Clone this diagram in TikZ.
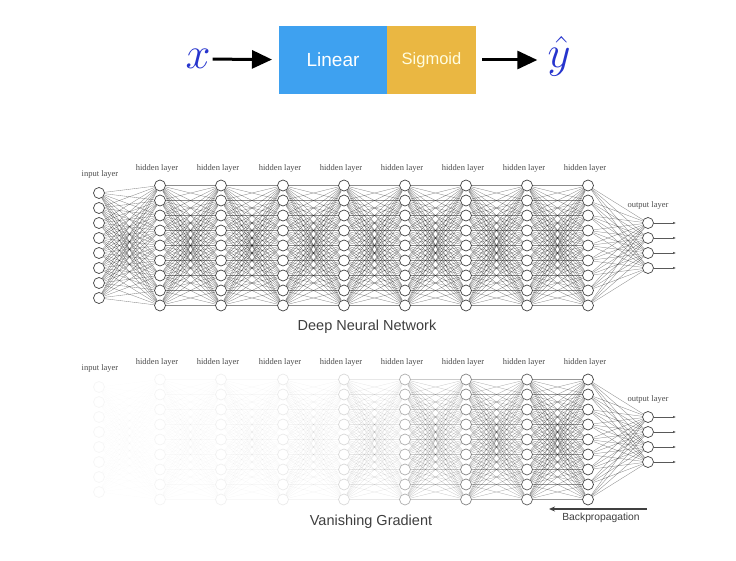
\documentclass[tikz,border=0pt]{standalone}
\usepackage{fontspec}
\setmainfont{Liberation Sans}
\newfontfamily\netfont{Liberation Serif}
\usetikzlibrary{arrows.meta,backgrounds}
\definecolor{linblue}{RGB}{62,161,240}
\definecolor{sigyel}{RGB}{234,183,66}
\definecolor{mathblue}{RGB}{38,52,205}
\definecolor{captgray}{RGB}{62,62,62}
\begin{document}
\begin{tikzpicture}[x=1pt,y=-1pt,
  neuron/.style={circle, draw=black!75, fill=white, line width=0.7pt, minimum size=11pt, inner sep=0pt},
  edge/.style={draw=black, line width=0.35pt},
  lbl/.style={font=\netfont\fontsize{8.5}{9}\selectfont, text=black!70, inner sep=0pt},
  capt/.style={font=\fontsize{14.5}{15}\selectfont, text=captgray, inner sep=0pt},
  mathtxt/.style={font=\fontsize{24.88}{25}\selectfont, text=mathblue, inner sep=0pt},
  bigarrow/.style={line width=3pt, -{Triangle[length=20pt,width=18pt]}},
  outarrow/.style={line width=0.5pt, draw=black!65, -{Latex[length=3pt,width=2.5pt]}},
  blockbox/.style={minimum height=68pt, inner sep=0pt, outer sep=0pt}]
\useasboundingbox (0,0) rectangle (736,561);

% ---------- top block diagram ----------
\node[mathtxt] (xin) at (198,59) {\scalebox{1.8}{$x$}};
\node[blockbox, fill=linblue, minimum width=108pt, text=white, font=\fontsize{19}{19}\selectfont] (lin) at (333,60) {Linear};
\node[blockbox, fill=sigyel, minimum width=89pt, text=white!88!yellow, font=\fontsize{16.5}{17}\selectfont] (sig) at (431.5,60) {Sigmoid};
\node[mathtxt] (yhat) at (559,56) {\scalebox{1.8}{$\hat{y}$}};
\draw[bigarrow, shorten <=2pt, shorten >=7pt] (xin) -- (lin);
\draw[bigarrow, shorten <=6pt, shorten >=10pt] (sig) -- (yhat.west |- sig);

% ---------- top network ----------
\foreach \l/\xx/\n in {0/99/8,1/160/9,2/221/9,3/283/9,4/344/9,5/405/9,6/466/9,7/527/9,8/588/9,9/648/4}{
  \foreach \i in {1,...,\n}{
    \node[neuron] (t\l-\i) at (\xx,{245.5+(\i-(\n+1)/2)*15}) {};
  }
}
\begin{pgfonlayer}{background}
\foreach \l/\n/\m in {0/8/9,1/9/9,2/9/9,3/9/9,4/9/9,5/9/9,6/9/9,7/9/9,8/9/4}{
  \pgfmathtruncatemacro\nl{\l+1}
  \foreach \i in {1,...,\n}{
    \foreach \j in {1,...,\m}{
      \draw[edge, draw opacity=0.45] (t\l-\i) -- (t\nl-\j);
    }
  }
}
\end{pgfonlayer}
\foreach \i in {1,...,4}{
  \coordinate (to\i) at (676,{245.5+(\i-2.5)*15});
  \draw[outarrow] (t9-\i) -- (to\i);
}
\node[lbl] (tin) at (100,174) {input layer};
\foreach \l/\xx in {1/160,2/221,3/283,4/344,5/405,6/466,7/527,8/588}{
  \node[lbl] (th\l) at ({\xx-3},168) {hidden layer};
}
\node[lbl] (tout) at (648,205) {output layer};
\node[capt] (cap1) at (367,327) {Deep Neural Network};

% ---------- bottom network ----------
\foreach \l/\xx/\n/\f in {0/99/8/5,1/160/9/6,2/221/9/8,3/283/9/11,4/344/9/20,5/405/9/42,6/466/9/65,7/527/9/85,8/588/9/100,9/648/4/100}{
  \foreach \i in {1,...,\n}{
    \node[neuron, draw opacity=\f/100] (b\l-\i) at (\xx,{439.5+(\i-(\n+1)/2)*15}) {};
  }
}
\begin{pgfonlayer}{background}
\foreach \l/\n/\m/\f in {0/8/9/3,1/9/9/4,2/9/9/6,3/9/9/9,4/9/9/20,5/9/9/45,6/9/9/70,7/9/9/90,8/9/4/100}{
  \pgfmathtruncatemacro\nl{\l+1}
  \foreach \i in {1,...,\n}{
    \foreach \j in {1,...,\m}{
      \draw[edge, draw opacity=0.45*\f/100] (b\l-\i) -- (b\nl-\j);
    }
  }
}
\end{pgfonlayer}
\foreach \i in {1,...,4}{
  \coordinate (bo\i) at (676,{439.5+(\i-2.5)*15});
  \draw[outarrow] (b9-\i) -- (bo\i);
}
\node[lbl] (bin) at (100,368) {input layer};
\foreach \l/\xx in {1/160,2/221,3/283,4/344,5/405,6/466,7/527,8/588}{
  \node[lbl] (bh\l) at ({\xx-3},362) {hidden layer};
}
\node[lbl] (bout) at (648,399) {output layer};
\node[capt] (cap2) at (371,522) {Vanishing Gradient};

\coordinate (bpS) at (647,509);
\coordinate (bpE) at (549,509);
\draw[line width=1.1pt, draw=black!75, -{Stealth[length=6pt,width=5pt]}] (bpS) -- (bpE);
\node[font=\fontsize{10.3}{11}\selectfont, text=captgray, inner sep=0pt] (bp) at (601,518) {Backpropagation};
\end{tikzpicture}
\end{document}
